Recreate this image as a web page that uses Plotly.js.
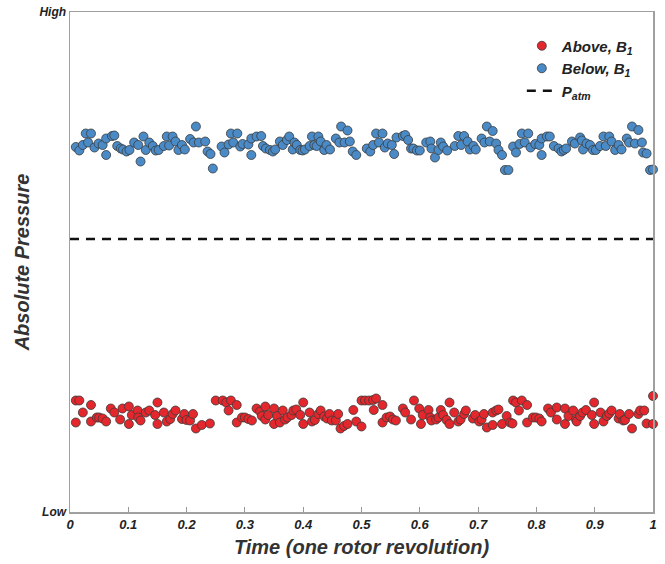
<!DOCTYPE html>
<html>
<head>
<meta charset="utf-8">
<script src="https://cdn.plot.ly/plotly-3.0.1.min.js"></script>
<style>html,body{margin:0;padding:0;background:#fff;}#chart{width:665px;height:564px;}</style>
</head>
<body>
<div id="chart"></div>
<script>
// Below B1 (blue) samples
const belowX = [0.010,0.016,0.022,0.027,0.031,0.036,0.042,0.049,0.056,0.062,0.062,0.072,0.076,0.081,0.087,0.091,0.097,0.102,0.110,0.117,0.121,0.126,0.130,0.136,0.142,0.147,0.152,0.161,0.166,0.170,0.176,0.181,0.186,0.192,0.197,0.206,0.212,0.216,0.221,0.232,0.236,0.241,0.245,0.260,0.265,0.272,0.276,0.280,0.287,0.292,0.296,0.306,0.311,0.311,0.320,
0.328,0.331,0.336,0.343,0.348,0.352,0.360,0.365,0.372,0.376,0.382,0.385,0.389,0.395,0.399,0.403,0.411,0.415,0.419,0.423,0.426,0.430,0.436,0.440,0.446,0.456,0.462,0.465,0.471,0.476,0.480,0.485,0.491,0.509,0.515,0.520,0.525,0.530,0.536,0.540,0.545,0.552,0.556,0.560,0.571,0.575,0.580,0.585,0.589,0.595,0.600,0.611,0.618,0.620,0.626,0.632,0.636,0.640,0.647,
0.660,0.666,0.671,0.676,0.682,0.686,0.692,0.696,0.706,0.711,0.715,0.720,0.725,0.731,0.735,0.741,0.746,0.752,0.760,0.765,0.771,0.775,0.780,0.786,0.790,0.798,0.805,0.809,0.809,0.818,0.823,0.830,0.838,0.843,0.847,0.851,0.861,0.866,0.875,0.878,0.880,0.886,0.892,0.897,0.902,0.909,0.915,0.919,0.925,0.929,0.935,0.941,0.946,0.955,0.959,0.964,0.969,0.975,0.981,0.983,0.989,0.995,1.000];
const belowY = [0.730,0.723,0.734,0.757,0.739,0.757,0.729,0.737,0.734,0.747,0.714,0.752,0.753,0.732,0.727,0.725,0.721,0.724,0.739,0.734,0.701,0.751,0.724,0.739,0.732,0.723,0.724,0.732,0.751,0.733,0.751,0.741,0.724,0.734,0.725,0.746,0.739,0.771,0.739,0.741,0.721,0.716,0.687,0.731,0.719,0.735,0.757,0.739,0.757,0.731,0.736,0.735,0.747,0.714,0.751,
0.752,0.732,0.727,0.724,0.721,0.725,0.741,0.734,0.744,0.751,0.725,0.739,0.734,0.724,0.723,0.725,0.732,0.751,0.734,0.732,0.751,0.741,0.724,0.734,0.725,0.747,0.739,0.771,0.739,0.763,0.741,0.721,0.714,0.727,0.721,0.734,0.757,0.739,0.757,0.729,0.737,0.734,0.716,0.749,0.752,0.754,0.744,0.727,0.727,0.723,0.723,0.739,0.741,0.727,0.709,0.724,0.739,0.731,0.723,
0.732,0.752,0.734,0.752,0.741,0.725,0.732,0.725,0.747,0.739,0.771,0.741,0.762,0.737,0.724,0.714,0.684,0.684,0.731,0.719,0.736,0.757,0.739,0.757,0.729,0.736,0.734,0.714,0.747,0.751,0.751,0.732,0.727,0.721,0.724,0.727,0.741,0.737,0.749,0.743,0.725,0.737,0.734,0.724,0.724,0.732,0.751,0.732,0.751,0.741,0.724,0.734,0.725,0.747,0.739,0.771,0.737,0.764,0.739,0.719,0.717,0.684,0.685];

// Above B1 (red) samples
const aboveX = [0.010,0.016,0.010,0.022,0.036,0.036,0.046,0.050,0.056,0.062,0.070,0.076,0.086,0.090,0.101,0.101,0.106,0.116,0.117,0.121,0.130,0.136,0.146,0.150,0.150,0.161,0.166,0.172,0.176,0.181,0.192,0.196,0.200,0.206,0.211,0.216,0.226,0.240,0.250,0.262,0.268,0.272,0.276,0.286,0.286,0.295,0.300,0.306,0.312,0.320,
0.326,0.329,0.335,0.335,0.340,0.350,0.350,0.355,0.360,0.365,0.369,0.373,0.380,0.383,0.388,0.395,0.400,0.400,0.411,0.415,0.420,0.426,0.430,0.436,0.441,0.445,0.449,0.456,0.460,0.464,0.470,0.476,0.486,0.491,0.500,0.500,0.506,0.513,0.520,0.525,0.521,0.536,0.536,0.543,0.549,0.554,0.559,0.571,0.575,0.585,0.590,0.599,0.602,0.605,0.615,0.618,0.620,0.628,0.632,0.636,0.640,0.646,0.651,
0.651,0.659,0.666,0.670,0.676,0.679,0.691,0.695,0.702,0.706,0.710,0.715,0.725,0.725,0.731,0.735,0.741,0.749,0.755,0.759,0.760,0.765,0.770,0.775,0.784,0.784,0.794,0.799,0.805,0.809,0.820,0.825,0.835,0.835,0.849,0.849,0.855,0.863,0.868,0.869,0.875,0.879,0.885,0.895,0.899,0.899,0.910,0.915,0.921,0.925,0.929,0.941,0.943,0.949,0.952,0.959,0.964,0.975,0.978,0.985,0.989,1.000,1.000];
const aboveY = [0.223,0.223,0.179,0.199,0.214,0.181,0.189,0.189,0.187,0.181,0.207,0.199,0.185,0.207,0.211,0.176,0.194,0.203,0.189,0.183,0.199,0.203,0.194,0.219,0.176,0.199,0.181,0.186,0.196,0.203,0.186,0.196,0.184,0.183,0.196,0.167,0.174,0.177,0.223,0.223,0.219,0.203,0.223,0.214,0.179,0.189,0.189,0.186,0.183,0.207,
0.201,0.192,0.211,0.185,0.194,0.207,0.176,0.192,0.179,0.203,0.185,0.189,0.194,0.203,0.205,0.194,0.219,0.176,0.199,0.181,0.184,0.196,0.203,0.191,0.187,0.196,0.183,0.183,0.196,0.167,0.172,0.176,0.204,0.181,0.171,0.223,0.223,0.223,0.224,0.227,0.204,0.214,0.179,0.189,0.191,0.185,0.183,0.207,0.199,0.185,0.223,0.207,0.176,0.194,0.204,0.189,0.183,0.185,0.189,0.204,0.194,0.184,0.219,
0.176,0.199,0.181,0.185,0.196,0.203,0.187,0.194,0.181,0.185,0.196,0.169,0.174,0.199,0.203,0.205,0.176,0.192,0.179,0.177,0.223,0.219,0.203,0.223,0.214,0.179,0.189,0.189,0.187,0.181,0.207,0.199,0.185,0.209,0.207,0.176,0.192,0.203,0.185,0.181,0.192,0.199,0.204,0.194,0.219,0.176,0.199,0.181,0.192,0.197,0.203,0.187,0.196,0.183,0.184,0.196,0.167,0.196,0.203,0.203,0.177,0.232,0.176];

const patmLevel = 0.546;
const xTickVals = [0,0.1,0.2,0.3,0.4,0.5,0.6,0.7,0.8,0.9,1];
const yTickVals = [0,1];
const yTickText = ['Low','High'];

const FONT = 'Liberation Sans, Arial, sans-serif';
const TXT = '#222';

const traces = [
  {x: aboveX, y: aboveY, type: 'scatter', mode: 'markers', name: 'Above, B<sub>1</sub>',
   cliponaxis: false,
   marker: {size: 9, color: '#e3272c', line: {color: '#3a3a3a', width: 0.8}}},
  {x: belowX, y: belowY, type: 'scatter', mode: 'markers', name: 'Below, B<sub>1</sub>',
   cliponaxis: false,
   marker: {size: 9, color: '#4a8bc7', line: {color: '#3a3a3a', width: 0.8}}},
  {x: [0, 1], y: [patmLevel, patmLevel], type: 'scatter', mode: 'lines', name: 'P<sub>atm</sub>',
   line: {color: '#111', width: 2.5, dash: '9px,7px'}}
];

const layout = {
  width: 665, height: 564,
  margin: {l: 70, r: 12, t: 12, b: 52},
  paper_bgcolor: '#fff', plot_bgcolor: '#fff',
  font: {family: FONT, color: TXT},
  showlegend: true,
  legend: {x: 0.775, y: 0.965, xanchor: 'left', yanchor: 'top', bgcolor: 'rgba(0,0,0,0)',
    font: {size: 15, family: FONT, weight: 'bold', style: 'italic', color: TXT},
    itemsizing: 'trace', itemwidth: 30, tracegroupgap: 0},
  xaxis: {
    range: [0, 1], tickvals: xTickVals, ticks: 'inside', ticklen: 5, tickcolor: '#999', tickwidth: 1,
    showline: true, mirror: true, linecolor: '#a0a0a0', linewidth: 1.5,
    showgrid: false, zeroline: false,
    tickfont: {size: 13, family: FONT, weight: 'bold', style: 'italic', color: TXT},
    title: {text: 'Time (one rotor revolution)', standoff: 9,
      font: {size: 20, family: FONT, weight: 'bold', style: 'italic', color: '#333'}}
  },
  yaxis: {
    range: [0, 1], tickvals: yTickVals, ticktext: yTickText, ticks: '',
    showline: true, mirror: true, linecolor: '#a0a0a0', linewidth: 1.5,
    showgrid: false, zeroline: false,
    tickfont: {size: 12, family: FONT, weight: 'bold', style: 'italic', color: TXT},
    title: {text: 'Absolute Pressure', standoff: 4,
      font: {size: 20, family: FONT, weight: 'bold', style: 'italic', color: '#333'}}
  }
};

Plotly.newPlot('chart', traces, layout, {displayModeBar: false, staticPlot: true});
</script>
</body>
</html>
